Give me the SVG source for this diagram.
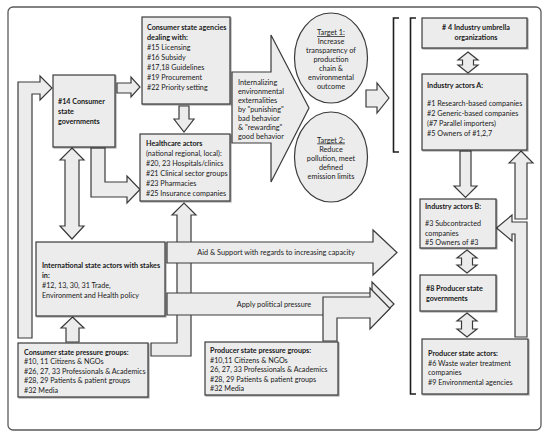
<svg xmlns="http://www.w3.org/2000/svg" width="550" height="437" viewBox="0 0 550 437">
<defs>
<style>
.box{fill:#ececec;stroke:#3a3a3a;stroke-width:1.2}
.arr{fill:#ececec;stroke:#3a3a3a;stroke-width:1.2;stroke-linejoin:miter}
.brk{fill:none;stroke:#1e1e1e;stroke-width:1.6}
text{font-family:Lato,"Liberation Sans",sans-serif;font-size:7.2px;fill:#1a1a1a}
.s{font-size:7.3px}
.b{font-weight:bold}
.c{text-anchor:middle}
.u{text-decoration:underline}
</style>
<filter id="sh" x="-5%" y="-5%" width="115%" height="115%">
<feDropShadow dx="1" dy="1" stdDeviation="0.6" flood-color="#000" flood-opacity="0.35"/>
</filter>
</defs>
<rect x="0" y="0" width="550" height="437" fill="#ffffff"/>
<rect x="8" y="7" width="533" height="423" rx="5" fill="none" stroke="#5a5a5a" stroke-width="1.3"/>

<g id="connectors">
<path class="arr" d="M18,338 L18,82 L40,82 L40,76 L52,88 L40,100 L40,94 L32,94 L32,338 Z"/>
<path class="arr" d="M117,83 L131,83 L131,77 L140,87 L131,97 L131,93 L117,93 Z"/>
<path class="arr" d="M179,106 L189,106 L189,119 L194,119 L184,132 L174,119 L179,119 Z"/>
<path class="arr" d="M91,148 L105,148 L105,182 L127,182 L127,176 L140,189.5 L127,203 L127,197 L91,197 Z"/>
<path class="arr" d="M72,148 L84,160 L79,160 L79,226 L84,226 L72,239 L60,226 L65,226 L65,160 L60,160 Z"/>
<path class="arr" d="M72.5,317 L84,328 L79,328 L79,342 L66,342 L66,328 L61,328 Z"/>
<path class="arr" d="M151,343 L177,343 L177,215 L172,215 L184,203 L196,215 L191,215 L191,356 L151,356 Z"/>
<path class="arr" d="M167,242 L373,242 L373,230 L397,252.5 L373,275 L373,263 L167,263 Z"/>
<path class="arr" d="M167,293 L372,293 L372,282 L394,304 L372,326 L372,315 L167,315 Z"/>
<path class="arr" d="M323,341 L323,297 L370,297 L370,288 L390,308.5 L370,329 L370,318 L337,318 L337,341 Z"/>
<path class="arr" d="M232,72 L271,72 L271,35 L309,108 L271,182 L271,143 L232,143 Z"/>
<path class="arr" d="M366,90 L377,90 L377,83 L389,98 L377,113 L377,107 L366,107 Z"/>
<path class="arr" d="M468,52 L478,60 L473.5,60 L473.5,65 L478,65 L468,73 L458,65 L462.5,65 L462.5,60 L458,60 Z"/>
<path class="arr" d="M460,151 L471,151 L471,186 L477,186 L465.5,197.5 L454,186 L460,186 Z"/>
<path class="arr" d="M467,250 L477,258 L472.5,258 L472.5,265 L477,265 L467,273 L457,265 L461.5,265 L461.5,258 L457,258 Z"/>
<path class="arr" d="M467,313 L477,321 L472.5,321 L472.5,329 L477,329 L467,337 L457,329 L461.5,329 L461.5,321 L457,321 Z"/>
<path class="arr" d="M521,151 L533,163 L527,163 L527,219 L515,219 L515,163 L509,163 Z"/>
<path class="arr" d="M527,222 L527,337 L515,337 L515,234 L512,234 L512,241 L496.5,228 L512,215 L512,222 Z"/>
<path class="brk" d="M399,18 L393.5,18 L393.5,152 L399,152"/>
<path class="brk" d="M416,18 L410.5,18 L410.5,394 L416,394"/>
</g>

<g id="agencies">
<rect class="box" filter="url(#sh)" x="142" y="17" width="88" height="87"/>
<text x="147" y="29.5" class="b">Consumer state agencies</text>
<text x="147" y="39.5" class="b">dealing with:</text>
<text x="147" y="49.5">#15 Licensing</text>
<text x="147" y="59.5">#16 Subsidy</text>
<text x="147" y="69.5">#17,18 Guidelines</text>
<text x="147" y="79.5">#19 Procurement</text>
<text x="147" y="89.5">#22 Priority setting</text>
</g>

<g id="consumer-gov">
<rect class="box" filter="url(#sh)" x="53" y="75" width="62" height="72"/>
<text x="58" y="104" class="b">#14 Consumer</text>
<text x="58" y="114" class="b">state</text>
<text x="58" y="124" class="b">governments</text>
</g>

<g id="healthcare">
<rect class="box" filter="url(#sh)" x="140" y="134" width="90" height="67"/>
<text x="146" y="146" class="b">Healthcare actors</text>
<text x="146" y="156">(national regional, local):</text>
<text x="146" y="166">#20, 23 Hospitals/clinics</text>
<text x="146" y="176">#21 Clinical sector groups</text>
<text x="146" y="186">#23 Pharmacies</text>
<text x="146" y="196">#25 Insurance companies</text>
</g>

<g id="internalizing">
<text x="238" y="84.5" class="s">Internalizing</text>
<text x="238" y="93.5" class="s">environmental</text>
<text x="238" y="102.5" class="s">externalities</text>
<text x="238" y="111.5" class="s">by "punishing"</text>
<text x="238" y="120.5" class="s">bad behavior</text>
<text x="238" y="129.5" class="s">&amp; "rewarding"</text>
<text x="238" y="138.5" class="s">good behavior</text>
</g>

<g id="target1">
<ellipse class="box" cx="331" cy="58" rx="36.5" ry="45"/>
<text x="331" y="35" class="s c u">Target 1:</text>
<text x="331" y="44" class="s c">Increase</text>
<text x="331" y="53" class="s c">transparency of</text>
<text x="331" y="62" class="s c">production</text>
<text x="331" y="71" class="s c">chain &amp;</text>
<text x="331" y="80" class="s c">environmental</text>
<text x="331" y="89" class="s c">outcome</text>
</g>

<g id="target2">
<ellipse class="box" cx="331" cy="157" rx="36.5" ry="45"/>
<text x="331" y="142.5" class="s c u">Target 2:</text>
<text x="331" y="151.5" class="s c">Reduce</text>
<text x="331" y="160.5" class="s c">pollution, meet</text>
<text x="331" y="169.5" class="s c">defined</text>
<text x="331" y="178.5" class="s c">emission limits</text>
</g>

<g id="umbrella">
<rect class="box" filter="url(#sh)" x="422" y="18" width="105" height="30"/>
<text x="476" y="30" class="c b"># 4 Industry umbrella</text>
<text x="476" y="40" class="c b">organizations</text>
</g>

<g id="industry-a">
<rect class="box" filter="url(#sh)" x="422" y="74" width="105" height="76"/>
<text x="427" y="88" class="b">Industry actors A:</text>
<text x="427" y="106">#1 Research-based companies</text>
<text x="427" y="116">#2 Generic-based companies</text>
<text x="427" y="126">(#7 Parallel importers)</text>
<text x="427" y="136">#5 Owners of #1,2,7</text>
</g>

<g id="industry-b">
<rect class="box" filter="url(#sh)" x="420" y="199" width="76" height="49"/>
<text x="425" y="208.5" class="b">Industry actors B:</text>
<text x="425" y="226">#3 Subcontracted</text>
<text x="425" y="235.5">companies</text>
<text x="425" y="245">#5 Owners of #3</text>
</g>

<g id="producer-gov">
<rect class="box" filter="url(#sh)" x="420" y="275" width="76" height="36"/>
<text x="426" y="290.5" class="b">#8 Producer state</text>
<text x="426" y="300.5" class="b">governments</text>
</g>

<g id="producer-actors">
<rect class="box" filter="url(#sh)" x="422" y="339" width="106" height="55"/>
<text x="428" y="356" class="b">Producer state actors:</text>
<text x="428" y="365.5">#6 Waste water treatment</text>
<text x="428" y="375">companies</text>
<text x="428" y="384.5">#9 Environmental agencies</text>
</g>

<g id="international">
<rect class="box" filter="url(#sh)" x="36" y="242" width="129" height="74"/>
<text x="42" y="268" class="b">International state actors with stakes</text>
<text x="42" y="278" class="b">in:</text>
<text x="42" y="288">#12, 13, 30, 31 Trade,</text>
<text x="42" y="298">Environment and Health policy</text>
</g>

<g id="aid-label">
<text x="276" y="255" class="s c">Aid &amp; Support with regards to increasing capacity</text>
</g>
<g id="apply-label">
<text x="274" y="306.5" class="s c">Apply political pressure</text>
</g>

<g id="consumer-pressure">
<rect class="box" filter="url(#sh)" x="18" y="343" width="130" height="54"/>
<text x="24" y="354.5" class="b">Consumer state pressure groups:</text>
<text x="24" y="364">#10, 11 Citizens &amp; NGOs</text>
<text x="24" y="373.5">#26, 27, 33 Professionals &amp; Academics</text>
<text x="24" y="383">#28, 29 Patients &amp; patient groups</text>
<text x="24" y="392.5">#32 Media</text>
</g>

<g id="producer-pressure">
<rect class="box" filter="url(#sh)" x="205" y="342" width="133" height="53"/>
<text x="210" y="353" class="b">Producer state pressure groups:</text>
<text x="210" y="362.5">#10,11 Citizens &amp; NGOs</text>
<text x="210" y="372">26, 27, 33 Professionals &amp; Academics</text>
<text x="210" y="381.5">#28, 29 Patients &amp; patient groups</text>
<text x="210" y="391">#32 Media</text>
</g>
</svg>
